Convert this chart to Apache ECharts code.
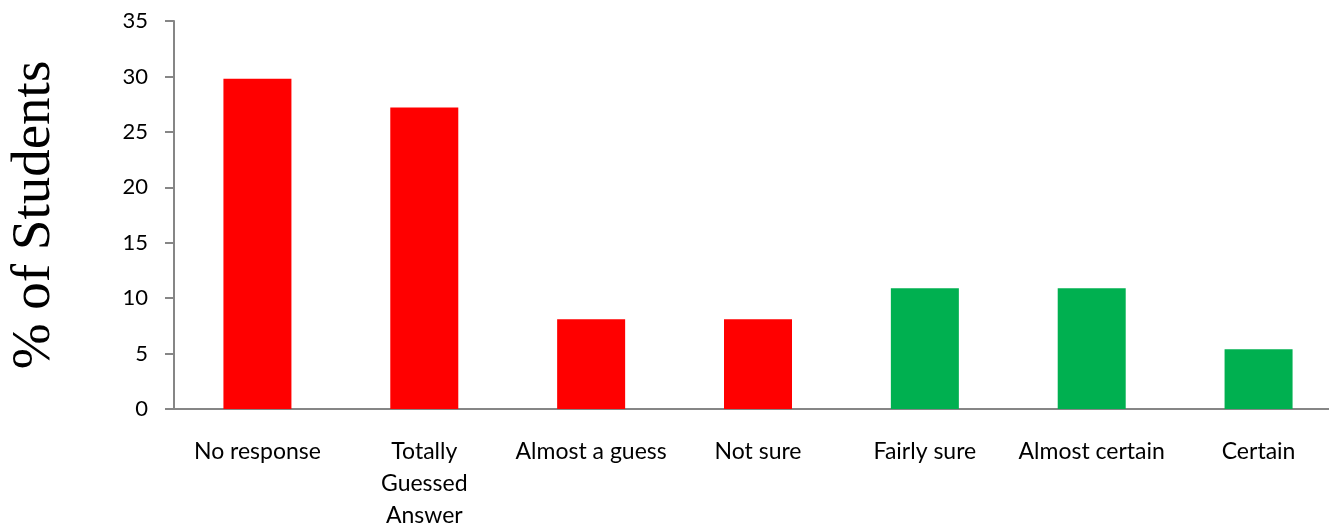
<!DOCTYPE html>
<html>
<head>
<meta charset="utf-8">
<script src="https://cdn.jsdelivr.net/npm/echarts@6/dist/echarts.min.js"></script>
<style>
  html, body { margin: 0; padding: 0; background: #fff; }
  #main { width: 1329px; height: 530px; }
</style>
</head>
<body>
<div id="main"></div>
<script>
// data
const categories = ['No response', 'Totally\nGuessed\nAnswer', 'Almost a guess', 'Not sure', 'Fairly sure', 'Almost certain', 'Certain'];
const percentStudents = [29.8, 27.2, 8.1, 8.1, 10.9, 10.9, 5.4];
const barColors = ['#ff0000', '#ff0000', '#ff0000', '#ff0000', '#00b050', '#00b050', '#00b050'];
const yTicks = [0, 5, 10, 15, 20, 25, 30, 35];

const chart = echarts.init(document.getElementById('main'));
chart.setOption({
  animation: false,
  grid: { left: 174, right: -13, top: 21, bottom: 121, outerBoundsMode: 'none', containLabel: false },
  xAxis: {
    type: 'category',
    data: categories,
    axisLine: { lineStyle: { color: '#868686', width: 2 } },
    axisTick: { show: false },
    axisLabel: {
      interval: 0,
      margin: 27,
      color: '#000',
      fontFamily: 'Lato',
      fontSize: 23,
      lineHeight: 32
    }
  },
  yAxis: {
    type: 'value',
    min: yTicks[0],
    max: yTicks[yTicks.length - 1],
    interval: 5,
    name: '% of Students',
    nameLocation: 'middle',
    nameGap: 112,
    nameTextStyle: { fontFamily: 'Liberation Serif', fontSize: 55, color: '#000' },
    axisLine: { show: true, lineStyle: { color: '#868686', width: 2 } },
    axisTick: { show: true, length: 9, lineStyle: { color: '#868686', width: 2 } },
    axisLabel: { margin: 26, color: '#000', fontFamily: 'Lato', fontSize: 22 },
    splitLine: { show: false }
  },
  series: [{
    type: 'bar',
    barWidth: 68,
    data: percentStudents.map((v, i) => ({ value: v, itemStyle: { color: barColors[i] } }))
  }]
});
</script>
</body>
</html>
